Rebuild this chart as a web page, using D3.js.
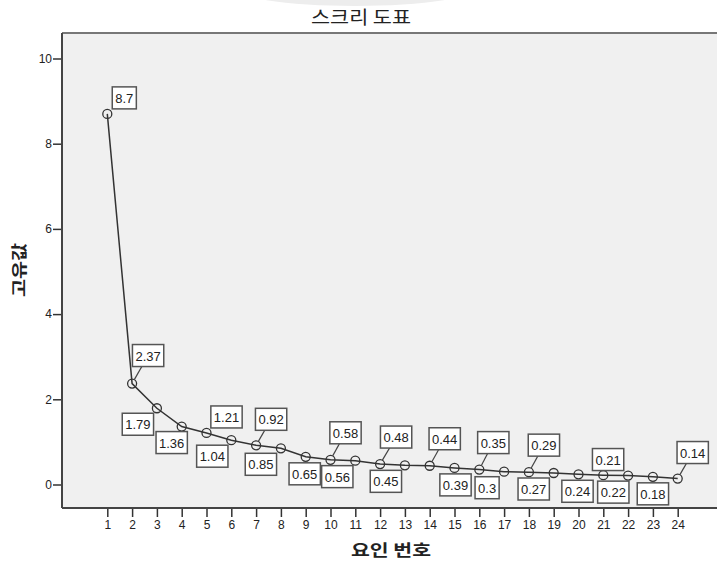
<!DOCTYPE html>
<html><head><meta charset="utf-8">
<script src="https://cdn.jsdelivr.net/npm/d3@7"></script>
<style>body{margin:0;background:#fff}svg{display:block}</style>
</head><body>
<svg id="c" width="717" height="562"></svg>
<script>
// ---- data ----
const factors = [1,2,3,4,5,6,7,8,9,10,11,12,13,14,15,16,17,18,19,20,21,22,23,24];
const eigenvalues = [8.7,2.37,1.79,1.36,1.21,1.04,0.92,0.85,0.65,0.58,0.56,0.48,0.45,0.44,0.39,0.35,0.3,0.29,0.27,0.24,0.22,0.21,0.18,0.14];
const yTicks = [0,2,4,6,8,10];
const title = "스크리 도표";
const xTitle = "요인 번호";
const yTitle = "고유값";
// label box offsets (layout, pixels from point)
const labelOffsets = [[17,-16],[16,-28],[-19,16],[-10,16],[20,-16],[-19,16],[15,-26],[-20,16],[-1,17],[15,-27],[-18,16],[16,-27],[-19,16],[15,-27],[1,17],[14,-27],[-17,16],[15,-27],[-20,16],[-1,17],[10,17],[-20,-16],[0,17],[15,-26]];

const svg = d3.select("#c");
const m = {left:62, top:33, right:717, bottom:508};
const x = d3.scaleLinear().domain([1,24]).range([107.3,677.7]);
const y = d3.scaleLinear().domain([0,10]).range([484.5,58.5]);

// faint top shape
svg.append("ellipse").attr("cx",355).attr("cy",-14).attr("rx",125).attr("ry",20).attr("fill","#ededed");

svg.append("text").attr("x",361).attr("y",24).attr("text-anchor","middle")
  .attr("font-family","'Noto Sans CJK KR'").attr("font-size",18).attr("fill","#222")
  .attr("textLength",100).attr("lengthAdjust","spacingAndGlyphs").text(title);

svg.append("rect").attr("x",m.left).attr("y",m.top).attr("width",m.right-m.left+5).attr("height",m.bottom-m.top)
  .attr("fill","#f0f0f0");
svg.append("line").attr("x1",m.left).attr("x2",720).attr("y1",m.top).attr("y2",m.top).attr("stroke","#777").attr("stroke-width",2);
svg.append("line").attr("x1",m.left).attr("x2",720).attr("y1",m.bottom).attr("y2",m.bottom).attr("stroke","#444").attr("stroke-width",2);
svg.append("line").attr("x1",m.left).attr("x2",m.left).attr("y1",m.top).attr("y2",m.bottom).attr("stroke","#444").attr("stroke-width",2);

// axes
const yAxis = d3.axisLeft(y).tickValues(yTicks).tickSize(8).tickPadding(1).tickFormat(d3.format("d"));
const gy = svg.append("g").attr("transform",`translate(${m.left-1},0)`).call(yAxis);
gy.select(".domain").remove();
gy.selectAll("line").attr("stroke","#333").attr("stroke-width",1.5);
gy.selectAll("text").attr("font-family","Arial, 'Liberation Sans'").attr("font-size",12).attr("fill","#222");

const xAxis = d3.axisBottom(x).tickValues(factors).tickSize(8).tickPadding(3).tickFormat(d3.format("d"));
const gx = svg.append("g").attr("transform",`translate(0,${m.bottom+1})`).call(xAxis);
gx.select(".domain").remove();
gx.selectAll("line").attr("stroke","#333").attr("stroke-width",1.5);
gx.selectAll("text").attr("font-family","Arial, 'Liberation Sans'").attr("font-size",12).attr("fill","#222");

svg.append("text").attr("x",391).attr("y",556).attr("text-anchor","middle")
  .attr("font-family","'Noto Sans CJK KR'").attr("font-weight",700).attr("font-size",16).attr("fill","#222")
  .attr("textLength",80).attr("lengthAdjust","spacingAndGlyphs").text(xTitle);
svg.append("text").attr("transform","translate(25,270) rotate(-90)").attr("text-anchor","middle")
  .attr("font-family","'Noto Sans CJK KR'").attr("font-weight",700).attr("font-size",16).attr("fill","#222")
  .attr("textLength",54).attr("lengthAdjust","spacingAndGlyphs").text(yTitle);

const pts = factors.map((f,i)=>({f, v:eigenvalues[i], px:x(f), py:y(eigenvalues[i]), off:labelOffsets[i]}));

svg.append("path").datum(pts).attr("fill","none").attr("stroke","#333").attr("stroke-width",1.5)
  .attr("d", d3.line().x(d=>d.px).y(d=>d.py));
svg.selectAll("circle.pt").data(pts).join("circle").attr("class","pt")
  .attr("cx",d=>d.px).attr("cy",d=>d.py).attr("r",4.5).attr("fill","none").attr("stroke","#333").attr("stroke-width",1.3);

// labels
const lg = svg.append("g");
pts.forEach(d=>{
  const g = lg.append("g");
  const t = g.append("text").attr("font-family","Arial, 'Liberation Sans'").attr("font-size",13).attr("fill","#222")
    .attr("text-anchor","middle").attr("dominant-baseline","central").text(String(d.v));
  const cx = d.px + d.off[0], cy = d.py + d.off[1];
  const w = t.node().getComputedTextLength() + 6, h = 22;
  const dx = Math.max(0, Math.abs(cx - d.px) - w/2), dy = Math.max(0, Math.abs(cy - d.py) - h/2);
  const gap = Math.hypot(dx,dy) - 4.5;
  if (gap > 5) {
    const ang = Math.atan2(cy - d.py, cx - d.px);
    g.insert("line","text").attr("x1",d.px+4.5*Math.cos(ang)).attr("y1",d.py+4.5*Math.sin(ang)).attr("x2",cx).attr("y2",cy)
      .attr("stroke","#444").attr("stroke-width",1.2);
  }
  g.insert("rect","text").attr("x",cx-w/2).attr("y",cy-h/2).attr("width",w).attr("height",h)
    .attr("fill","#fff").attr("stroke","#555").attr("stroke-width",1.5);
  t.attr("x",cx).attr("y",cy+0.5);
});
</script>
</body></html>
